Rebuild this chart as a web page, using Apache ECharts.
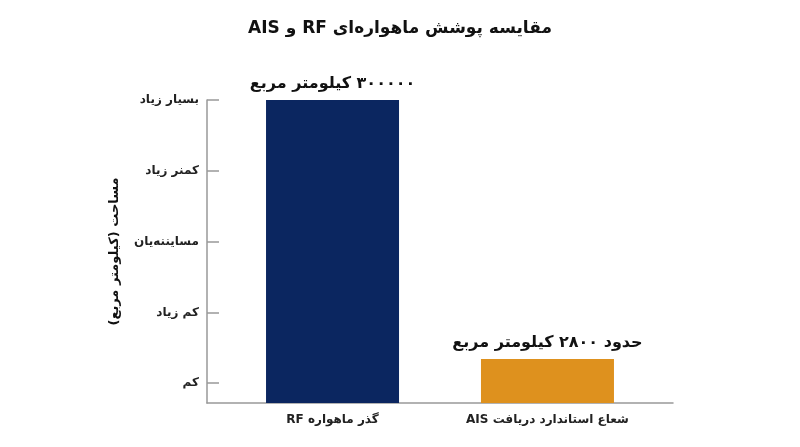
<!DOCTYPE html>
<html>
<head>
<meta charset="utf-8">
<script src="https://cdn.jsdelivr.net/npm/echarts@6/dist/echarts.min.js"></script>
<style>
  html, body { margin: 0; padding: 0; background: #fff; }
  #chart { width: 800px; height: 447px; direction: rtl; }
</style>
</head>
<body>
<div id="chart"></div>
<script>
// داده‌ها
var categories = ['گذر ماهواره RF', 'شعاع استاندارد دریافت AIS'];
var barValues = [4.28, 0.62];
var barLabels = ['۳۰۰۰۰۰ کیلومتر مربع', 'حدود ۲۸۰۰ کیلومتر مربع'];
var barColors = ['#0b2660', '#de911e'];
var levelNames = ['کم', 'کم زیاد', 'مسایننه‌یان', 'کمنر زیاد', 'بسیار زیاد'];
var levelValues = [0.28, 1.28, 2.28, 3.28, 4.28];

var FONT = '"DejaVu Sans", sans-serif';

var chart = echarts.init(document.getElementById('chart'));

var option = {
    backgroundColor: '#fff',
    animation: false,
    title: {
        text: 'مقایسه پوشش ماهواره‌ای RF و AIS',
        left: 'center',
        top: 15,
        textStyle: { fontFamily: FONT, fontSize: 17, fontWeight: 'bold', color: '#111' }
    },
    grid: { left: 207, right: 127, top: 100, bottom: 44 },
    xAxis: {
        type: 'value',
        min: -0.584,
        max: 1.584,
        splitLine: { show: false },
        axisLine: { show: true, onZero: false, lineStyle: { color: '#999', width: 1.5 } },
        axisTick: { show: false },
        axisLabel: {
            customValues: [0, 1],
            formatter: function (v) { return categories[Math.round(v)]; },
            margin: 11,
            fontFamily: FONT, fontSize: 12, fontWeight: 'bold', color: '#222'
        }
    },
    yAxis: {
        type: 'value',
        min: 0,
        max: 4.28,
        name: 'مساحت (کیلومتر مربع)',
        nameLocation: 'middle',
        nameGap: 86,
        nameRotate: 90,
        nameTextStyle: { fontFamily: FONT, fontSize: 13, fontWeight: 'bold', color: '#111' },
        splitLine: { show: false },
        axisLine: { show: true, onZero: false, lineStyle: { color: '#999', width: 1.5 } },
        axisTick: {
            show: true,
            inside: true,
            length: 12,
            customValues: levelValues,
            lineStyle: { color: '#999', width: 1.5 }
        },
        axisLabel: {
            customValues: levelValues,
            formatter: function (v) {
                var i = levelValues.indexOf(v);
                return i >= 0 ? levelNames[i] : '';
            },
            margin: 8,
            fontFamily: FONT, fontSize: 12, fontWeight: 'bold', color: '#222'
        }
    },
    series: [
        {
            type: 'bar',
            barWidth: 133,
            data: barValues.map(function (v, i) {
                return { value: [i, v], itemStyle: { color: barColors[i] } };
            }),
            label: {
                show: true,
                position: 'top',
                distance: 8,
                formatter: function (p) { return barLabels[p.dataIndex]; },
                fontFamily: FONT, fontSize: 16, fontWeight: 'bold', color: '#111'
            }
        }
    ]
};
chart.setOption(option);

window.addEventListener('resize', function () {
    chart.resize();
});
</script>
</body>
</html>
